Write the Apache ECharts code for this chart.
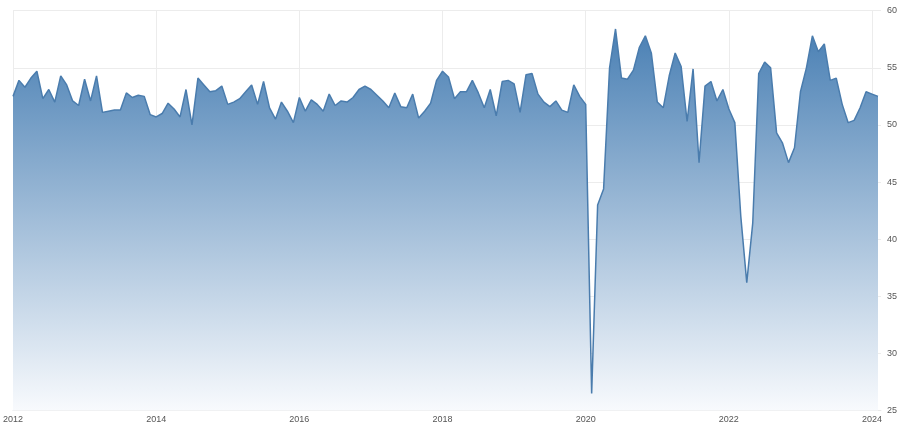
<!DOCTYPE html>
<html>
<head>
<meta charset="utf-8">
<style>
  html, body { margin: 0; padding: 0; background: #ffffff; }
  #chart { width: 900px; height: 431px; }
</style>
<script src="https://cdn.jsdelivr.net/npm/echarts@6/dist/echarts.min.js"></script>
</head>
<body>
<div id="chart"></div>
<script>
// Monthly values, Jan 2012 .. Feb 2024
const startYear = 2012;
const values = [
  // 2012
  52.5, 53.9, 53.3, 54.1, 54.7, 52.3, 53.1, 52.0, 54.3, 53.5, 52.1, 51.7,
  // 2013
  54.0, 52.1, 54.3, 51.1, 51.2, 51.3, 51.3, 52.8, 52.4, 52.6, 52.5, 50.9,
  // 2014
  50.7, 51.0, 51.9, 51.4, 50.7, 53.1, 50.0, 54.1, 53.5, 52.9, 53.0, 53.4,
  // 2015
  51.8, 52.0, 52.3, 52.9, 53.5, 51.8, 53.8, 51.5, 50.5, 52.0, 51.2, 50.2,
  // 2016
  52.4, 51.2, 52.2, 51.8, 51.2, 52.7, 51.7, 52.1, 52.0, 52.4, 53.1, 53.4,
  // 2017
  53.1, 52.6, 52.1, 51.5, 52.8, 51.6, 51.5, 52.7, 50.6, 51.2, 51.9, 53.9,
  // 2018
  54.7, 54.2, 52.3, 52.9, 52.9, 53.9, 52.8, 51.5, 53.1, 50.8, 53.8, 53.9,
  // 2019
  53.6, 51.1, 54.4, 54.5, 52.7, 52.0, 51.6, 52.1, 51.3, 51.1, 53.5, 52.5,
  // 2020
  51.8, 26.5, 43.0, 44.4, 55.0, 58.4, 54.1, 54.0, 54.8, 56.8, 57.8, 56.3,
  // 2021
  52.0, 51.5, 54.3, 56.3, 55.1, 50.3, 54.9, 46.7, 53.4, 53.8, 52.1, 53.1,
  // 2022
  51.4, 50.2, 42.0, 36.2, 41.4, 54.5, 55.5, 55.0, 49.3, 48.4, 46.7, 48.0,
  // 2023
  52.9, 55.0, 57.8, 56.4, 57.1, 53.9, 54.1, 51.8, 50.2, 50.4, 51.5, 52.9,
  // 2024
  52.7, 52.5
];
const yTicks = [25, 30, 35, 40, 45, 50, 55, 60];
const xLabelYears = [2012, 2014, 2016, 2018, 2020, 2022, 2024];

// month index since Jan of startYear
const seriesData = values.map((v, i) => [i, v]);
const labelMonths = xLabelYears.map(y => (y - startYear) * 12);

const chart = echarts.init(document.getElementById('chart'), null, { renderer: 'canvas' });
chart.setOption({
  animation: false,
  backgroundColor: '#ffffff',
  grid: { left: 11.7, right: 19, top: 10.7, bottom: 20.5, containLabel: false },
  xAxis: {
    type: 'value',
    min: 0,
    max: 145.5,
    interval: 24,
    axisLine: { show: true, lineStyle: { color: '#e8e8e8', width: 1 } },
    axisTick: { show: false },
    axisLabel: {
      color: '#555555',
      fontSize: 9,
      fontFamily: 'Liberation Sans, Arial, sans-serif',
      margin: 5,
      showMaxLabel: false,
      formatter: v => labelMonths.indexOf(v) >= 0 ? String(startYear + v / 12) : ''
    },
    splitLine: { show: true, showMaxLine: false, lineStyle: { color: '#ececec', width: 1 } }
  },
  yAxis: {
    type: 'value',
    position: 'right',
    min: yTicks[0],
    max: yTicks[yTicks.length - 1],
    interval: 5,
    axisLine: { show: false },
    axisTick: { show: false },
    axisLabel: {
      color: '#555555',
      fontSize: 9,
      fontFamily: 'Liberation Sans, Arial, sans-serif',
      margin: 6
    },
    splitLine: { show: true, lineStyle: { color: '#ececec', width: 1 } }
  },
  series: [{
    type: 'line',
    data: seriesData,
    showSymbol: false,
    symbol: 'none',
    smooth: false,
    lineStyle: { color: '#4a7cad', width: 1.5 },
    areaStyle: {
      origin: 'start',
      opacity: 1,
      color: new echarts.graphic.LinearGradient(0, 0, 0, 1, [
        { offset: 0, color: '#4a80b4' },
        { offset: 1, color: '#f8fafd' }
      ])
    }
  }]
});
</script>
</body>
</html>
